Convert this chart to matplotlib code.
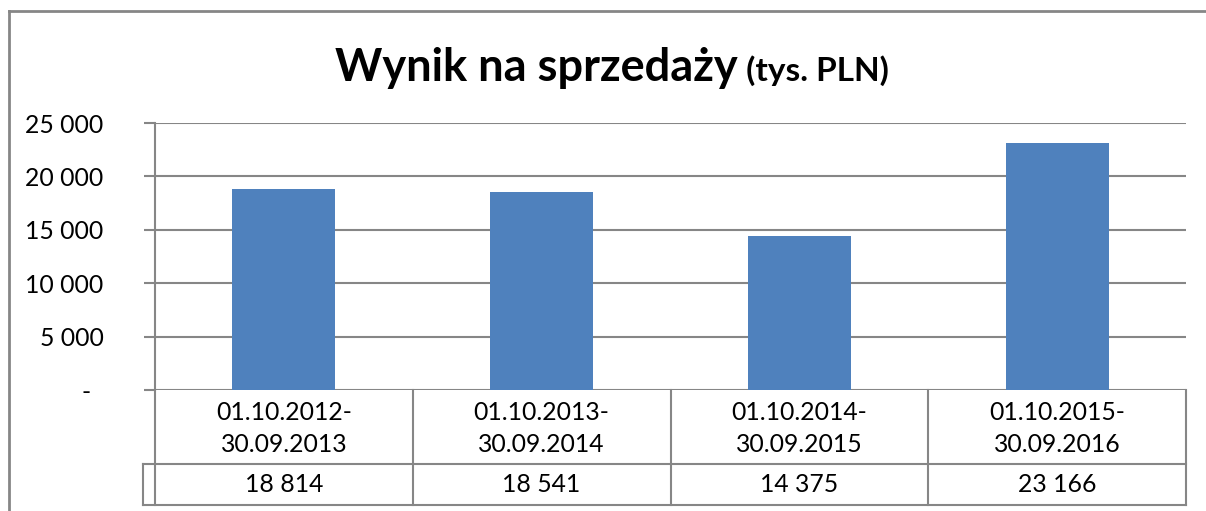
import matplotlib
matplotlib.use("Agg")
import matplotlib.pyplot as plt
import matplotlib.transforms as mtransforms
from matplotlib.lines import Line2D

categories_line1 = ["01.10.2012-", "01.10.2013-", "01.10.2014-", "01.10.2015-"]
categories_line2 = ["30.09.2013", "30.09.2014", "30.09.2015", "30.09.2016"]
values = [18814, 18541, 14375, 23166]
value_labels = ["18 814", "18 541", "14 375", "23 166"]
yticks = [0, 5000, 10000, 15000, 20000, 25000]
ytick_labels = ["-  ", "5 000", "10 000", "15 000", "20 000", "25 000"]
title_main = "Wynik na sprzedaży"
title_unit = "(tys. PLN)"

W, H = 1206, 511
plt.rcParams['font.family'] = ['Lato', 'DejaVu Sans']
fig = plt.figure(figsize=(W / 100, H / 100), dpi=100)
fig.patch.set_facecolor("white")

GRID = "#868686"
BAR = "#4F81BD"

pxT = mtransforms.Affine2D().scale(1 / W, -1 / H).translate(0, 1) + fig.transFigure

x0, x1 = 155, 1186
y_top, y_zero = 123, 390
ax = fig.add_axes([x0 / W, 1 - y_zero / H, (x1 - x0) / W, (y_zero - y_top) / H])
ax.set_xlim(0, len(values))
ax.set_ylim(0, 25000)
xs = [i + 0.5 for i in range(len(values))]
ax.bar(xs, values, width=0.4, color=BAR, zorder=3)

ax.set_yticks(yticks)
ax.set_yticklabels(ytick_labels, fontsize=17.8)
ax.tick_params(axis='y', length=8, width=1.5, color=GRID, pad=29)
ax.set_xticks([])
ax.grid(axis='y', color=GRID, linewidth=1.5, zorder=0)
for s in ['top', 'right', 'bottom']:
    ax.spines[s].set_visible(False)
ax.spines['left'].set_color(GRID)
ax.spines['left'].set_linewidth(1.5)
ax.set_facecolor('none')

# data table
bt = mtransforms.blended_transform_factory(ax.transData, pxT)
row1_bottom, row2_bottom = 464, 505
lw = 1.5
for i in range(len(values) + 1):
    ax.add_line(Line2D([i, i], [y_zero, row2_bottom], transform=bt, color=GRID, lw=lw, clip_on=False))
fig.add_artist(Line2D([143, 1186], [row1_bottom, row1_bottom], transform=pxT, color=GRID, lw=lw))
fig.add_artist(Line2D([143, 1186], [row2_bottom, row2_bottom], transform=pxT, color=GRID, lw=lw))
fig.add_artist(Line2D([143, 143], [row1_bottom, row2_bottom], transform=pxT, color=GRID, lw=lw))
for x, a, b, v in zip(xs, categories_line1, categories_line2, value_labels):
    ax.text(x, 412, a, transform=bt, ha='center', va='center', fontsize=17.8, clip_on=False)
    ax.text(x, 444, b, transform=bt, ha='center', va='center', fontsize=17.8, clip_on=False)
    ax.text(x, 484, v, transform=bt, ha='center', va='center', fontsize=17.8, clip_on=False)

# outer border
fig.add_artist(Line2D([9, W], [11, 11], transform=pxT, color=GRID, lw=2))
fig.add_artist(Line2D([9, 9], [11, H], transform=pxT, color=GRID, lw=2))

# title
t1 = fig.text(0, 0, title_main, transform=pxT, fontsize=32.5, fontweight='bold', ha='left', va='baseline')
t2 = fig.text(0, 0, " " + title_unit, transform=pxT, fontsize=24, fontweight='bold', ha='left', va='baseline')
r = fig.canvas.get_renderer()
w1 = t1.get_window_extent(r).width
w2 = t2.get_window_extent(r).width
start = 612 - (w1 + w2) / 2
t1.set_position((start, 81))
t2.set_position((start + w1, 81))

fig.savefig("out.png", dpi=100)
